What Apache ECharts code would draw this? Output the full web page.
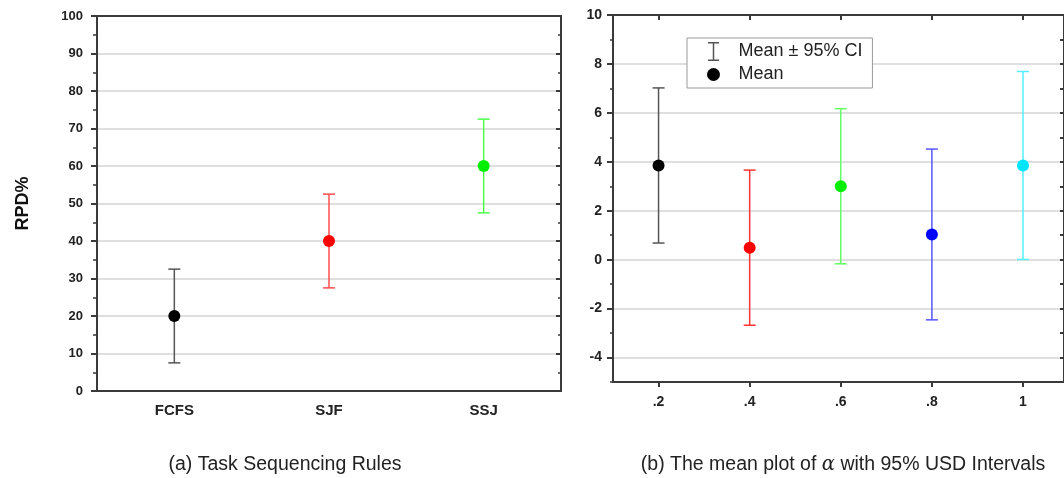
<!DOCTYPE html>
<html>
<head>
<meta charset="utf-8">
<script src="https://cdn.jsdelivr.net/npm/echarts@6/dist/echarts.min.js"></script>
<style>
  html, body { margin: 0; padding: 0; background: #fff; }
  #chart { width: 1064px; height: 478px; }
</style>
</head>
<body>
<div id="chart"></div>
<script>
// (a) task sequencing rules
const rules = ['FCFS', 'SJF', 'SSJ'];
const ruleMean = [20, 40, 60];
const ruleLow = [7.5, 27.5, 47.5];
const ruleHigh = [32.5, 52.5, 72.5];

// (b) alpha levels
const alphas = [0.2, 0.4, 0.6, 0.8, 1.0];
const alphaMean = [3.85, 0.49, 3.0, 1.03, 3.85];
const alphaLow = [0.68, -2.68, -0.17, -2.46, 0.01];
const alphaHigh = [7.02, 3.66, 6.17, 4.52, 7.69];
const alphaTicks = [-4, -2, 0, 2, 4, 6, 8, 10];

const ruleBarColors = ['#555555', '#ff4d4d', '#4dff4d'];
const ruleDotColors = ['#000000', '#ff0000', '#00ee00'];
const alphaBarColors = ['#555555', '#ff3333', '#66ff66', '#5555ff', '#55eeff'];
const alphaDotColors = ['#000000', '#ff0000', '#00ee00', '#0000ff', '#00e5ff'];

const axisColor = '#3a3a3a';
const gridColor = '#d4d4d4';
const font = 'Liberation Sans, Arial, sans-serif';

// legend icons, the dot path has two tiny corner specks so it keeps a smaller size inside the box
const ciIcon = 'path://M0,0h11v1.5h-4.75v16h4.75v1.5h-11v-1.5h4.75v-16h-4.75z';
const dotIcon = 'path://M0,0h0.01v0.01h-0.01z M19,19h0.01v0.01h-0.01z M3,9.5a6.5,6.5 0 1,0 13,0a6.5,6.5 0 1,0 -13,0z';

const chart = echarts.init(document.getElementById('chart'));

function errorBar(colors) {
    return function (params, api) {
        const x = api.value(0);
        const lo = api.coord([x, api.value(1)]);
        const hi = api.coord([x, api.value(2)]);
        const w = 6;
        const style = { stroke: colors[params.dataIndex], lineWidth: 1.5, fill: null };
        return {
            type: 'group',
            children: [
                { type: 'line', shape: { x1: lo[0], y1: lo[1], x2: hi[0], y2: hi[1] }, style: style },
                { type: 'line', shape: { x1: hi[0] - w, y1: hi[1], x2: hi[0] + w, y2: hi[1] }, style: style },
                { type: 'line', shape: { x1: lo[0] - w, y1: lo[1], x2: lo[0] + w, y2: lo[1] }, style: style }
            ]
        };
    };
}

const lineStyle = { color: axisColor, width: 2 };

const option = {
    animation: false,
    textStyle: { fontFamily: font },
    grid: [
        { left: 97, top: 16, width: 464, height: 375 },
        { left: 613, top: 15, right: 0, height: 367 }
    ],
    legend: {
        data: [
            { name: 'Mean ± 95% CI', icon: ciIcon },
            { name: 'Mean', icon: dotIcon }
        ],
        orient: 'vertical',
        left: 687,
        top: 38,
        itemWidth: 40,
        itemHeight: 19,
        itemGap: 4,
        padding: [4, 10, 4, 17],
        borderColor: '#999',
        borderWidth: 1,
        backgroundColor: '#fff',
        selectedMode: false,
        textStyle: { fontSize: 18, color: '#222', fontFamily: font }
    },
    xAxis: [
        {
            type: 'category', gridIndex: 0, position: 'bottom', data: rules,
            axisLine: { onZero: false, lineStyle: lineStyle },
            axisTick: { alignWithLabel: true, length: 5, lineStyle: lineStyle },
            axisLabel: { fontWeight: 'bold', fontSize: 15, color: '#222', margin: 12 },
            splitLine: { show: false }
        },
        {
            type: 'category', gridIndex: 0, position: 'top', data: rules,
            axisLine: { onZero: false, lineStyle: lineStyle },
            axisTick: { alignWithLabel: true, inside: true, length: 5, lineStyle: lineStyle },
            axisLabel: { show: false },
            splitLine: { show: false }
        },
        {
            type: 'value', gridIndex: 1, position: 'bottom', min: 0.1, max: 1.09,
            axisLine: { onZero: false, lineStyle: lineStyle },
            axisTick: { customValues: alphas, length: 5, lineStyle: lineStyle },
            axisLabel: {
                customValues: alphas, fontWeight: 'bold', fontSize: 14, color: '#222', margin: 13,
                formatter: v => String(v).replace(/^0/, '')
            },
            splitLine: { show: false }
        },
        {
            type: 'value', gridIndex: 1, position: 'top', min: 0.1, max: 1.09,
            axisLine: { onZero: false, lineStyle: lineStyle },
            axisTick: { customValues: alphas, inside: true, length: 5, lineStyle: lineStyle },
            axisLabel: { show: false },
            splitLine: { show: false }
        }
    ],
    yAxis: [
        {
            type: 'value', gridIndex: 0, position: 'left', min: 0, max: 100, interval: 10,
            name: 'RPD%', nameLocation: 'middle', nameGap: 65,
            nameTextStyle: { fontWeight: 'bold', fontSize: 18, color: '#111' },
            axisLine: { show: true, onZero: false, lineStyle: lineStyle },
            axisTick: { show: true, length: 6, lineStyle: lineStyle },
            minorTick: { show: true, splitNumber: 2, length: 4, lineStyle: { color: axisColor, width: 1.5 } },
            axisLabel: { fontWeight: 'bold', fontSize: 13, color: '#222', margin: 14 },
            splitLine: { lineStyle: { color: gridColor, width: 1.5 } }
        },
        {
            type: 'value', gridIndex: 0, position: 'right', min: 0, max: 100, interval: 10,
            axisLine: { show: true, onZero: false, lineStyle: lineStyle },
            axisTick: { show: true, inside: true, length: 5, lineStyle: lineStyle },
            minorTick: { show: true, splitNumber: 2, length: 3, lineStyle: { color: axisColor, width: 1.5 } },
            axisLabel: { show: false },
            splitLine: { show: false }
        },
        {
            type: 'value', gridIndex: 1, position: 'left', min: -5, max: 10, interval: 1,
            axisLine: { show: true, onZero: false, lineStyle: lineStyle },
            axisTick: { show: true, customValues: alphaTicks, length: 6, lineStyle: lineStyle },
            axisLabel: { customValues: alphaTicks, fontWeight: 'bold', fontSize: 14, color: '#222', margin: 11 },
            splitLine: { show: true, lineStyle: { color: gridColor, width: 1.5 } }
        },
        {
            type: 'value', gridIndex: 1, position: 'left', min: -5, max: 10, interval: 1,
            axisLine: { show: false, onZero: false },
            axisTick: { show: true, length: 3, lineStyle: { color: axisColor, width: 1.5 } },
            axisLabel: { show: false },
            splitLine: { show: false }
        },
        {
            type: 'value', gridIndex: 1, position: 'right', min: -5, max: 10, interval: 1,
            axisLine: { show: true, onZero: false, lineStyle: lineStyle },
            axisTick: { show: true, inside: true, length: 4, lineStyle: lineStyle },
            axisLabel: { show: false },
            splitLine: { show: false }
        }
    ],
    series: [
        {
            name: 'rules-ci', type: 'custom', xAxisIndex: 0, yAxisIndex: 0,
            renderItem: errorBar(ruleBarColors),
            encode: { x: 0, y: [1, 2] },
            data: rules.map((r, i) => [i, ruleLow[i], ruleHigh[i]]),
            z: 2
        },
        {
            name: 'rules-mean', type: 'scatter', xAxisIndex: 0, yAxisIndex: 0,
            symbolSize: 12,
            itemStyle: { opacity: 1 },
            data: rules.map((r, i) => ({ value: [i, ruleMean[i]], itemStyle: { color: ruleDotColors[i], opacity: 1 } })),
            z: 3
        },
        {
            name: 'Mean ± 95% CI', type: 'custom', xAxisIndex: 2, yAxisIndex: 2,
            renderItem: errorBar(alphaBarColors),
            itemStyle: { color: '#555555' },
            encode: { x: 0, y: [1, 2] },
            data: alphas.map((a, i) => [a, alphaLow[i], alphaHigh[i]]),
            z: 2
        },
        {
            name: 'Mean', type: 'scatter', xAxisIndex: 2, yAxisIndex: 2,
            symbolSize: 12,
            itemStyle: { color: '#000', opacity: 1 },
            data: alphas.map((a, i) => ({ value: [a, alphaMean[i]], itemStyle: { color: alphaDotColors[i], opacity: 1 } })),
            z: 3
        }
    ],
    graphic: [
        {
            type: 'text', x: 285, y: 465,
            style: { text: '(a) Task Sequencing Rules', font: '19.5px ' + font, fill: '#222', align: 'center', verticalAlign: 'middle' }
        },
        {
            type: 'text', x: 843, y: 465,
            style: {
                text: '(b) The mean plot of {a|α} with 95% USD Intervals',
                font: '19.5px ' + font, fill: '#222', align: 'center', verticalAlign: 'middle',
                rich: { a: { fontFamily: 'DejaVu Serif, serif', fontStyle: 'italic', fontSize: 19.5, fill: '#222' } }
            }
        }
    ]
};

chart.setOption(option);
</script>
</body>
</html>
